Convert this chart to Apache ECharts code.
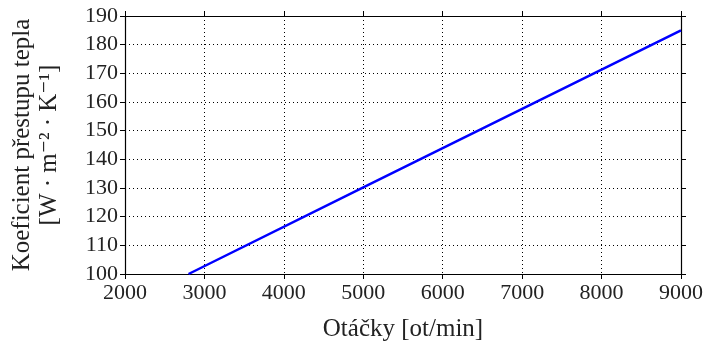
<!DOCTYPE html>
<html>
<head>
<meta charset="utf-8">
<script src="https://cdn.jsdelivr.net/npm/echarts@6/dist/echarts.min.js"></script>
<style>
  html, body { margin: 0; padding: 0; background: #fff; }
  #main { width: 706px; height: 347px; }
</style>
</head>
<body>
<div id="main"></div>
<script>
// otacky vs. koeficient prestupu tepla
var otacky = [2800, 5000, 7000, 9000];
var koeficient = [100, 130.2, 157.6, 185];
var xTicks = [2000, 3000, 4000, 5000, 6000, 7000, 8000, 9000];
var yTicks = [100, 110, 120, 130, 140, 150, 160, 170, 180, 190];

var fontFam = '"Liberation Serif", "DejaVu Serif", serif';

var data = [];
for (var i = 0; i < otacky.length; i++) {
  data.push([otacky[i], koeficient[i]]);
}

var tickStyle = { show: true, inside: false, length: 5, lineStyle: { color: '#000', width: 1 } };
var gridLine = { show: true, lineStyle: { color: '#000', type: [1, 3], width: 1 } };
var plain = function (v) { return String(v); };

var option = {
  animation: false,
  backgroundColor: '#fff',
  grid: { left: 125, right: 25, top: 16, bottom: 71 },
  xAxis: [
    {
      type: 'value',
      min: xTicks[0],
      max: xTicks[xTicks.length - 1],
      interval: 1000,
      name: 'Otáčky [ot/min]',
      nameLocation: 'middle',
      nameGap: 43,
      nameTextStyle: { fontFamily: fontFam, fontSize: 25, color: '#222' },
      axisLine: { show: true, onZero: false, lineStyle: { color: '#000', width: 1.2 } },
      axisTick: tickStyle,
      axisLabel: { margin: 8, fontFamily: fontFam, fontSize: 22, color: '#222', formatter: plain },
      splitLine: gridLine
    },
    {
      type: 'value',
      position: 'top',
      min: xTicks[0],
      max: xTicks[xTicks.length - 1],
      interval: 1000,
      axisLine: { show: true, onZero: false, lineStyle: { color: '#000', width: 1.2 } },
      axisTick: tickStyle,
      axisLabel: { show: false },
      splitLine: { show: false }
    }
  ],
  yAxis: [
    {
      type: 'value',
      min: yTicks[0],
      max: yTicks[yTicks.length - 1],
      interval: 10,
      name: 'Koeficient přestupu tepla\n[W · m⁻² · K⁻¹]',
      nameLocation: 'middle',
      nameRotate: 90,
      nameGap: 62,
      nameTextStyle: { fontFamily: fontFam, fontSize: 25, lineHeight: 27, color: '#222', align: 'center' },
      axisLine: { show: true, onZero: false, lineStyle: { color: '#000', width: 1.2 } },
      axisTick: tickStyle,
      axisLabel: { margin: 7, fontFamily: fontFam, fontSize: 22, color: '#222', formatter: plain },
      splitLine: gridLine
    },
    {
      type: 'value',
      position: 'right',
      min: yTicks[0],
      max: yTicks[yTicks.length - 1],
      interval: 10,
      axisLine: { show: true, onZero: false, lineStyle: { color: '#000', width: 1.2 } },
      axisTick: tickStyle,
      axisLabel: { show: false },
      splitLine: { show: false }
    }
  ],
  series: [{
    type: 'line',
    data: data,
    showSymbol: false,
    clip: true,
    lineStyle: { color: '#0000ff', width: 2.5 }
  }]
};

var myChart = echarts.init(document.getElementById('main'));
myChart.setOption(option);
</script>
</body>
</html>
